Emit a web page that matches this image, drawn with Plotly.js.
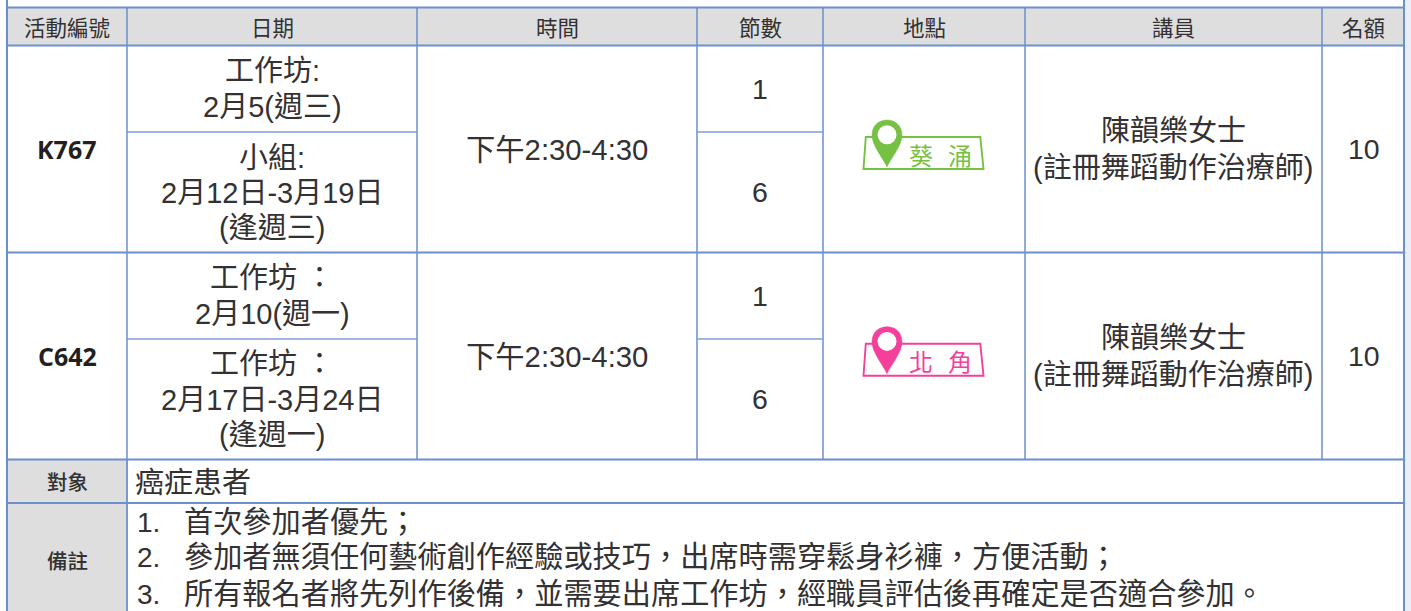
<!DOCTYPE html>
<html><head><meta charset="utf-8">
<script src="https://cdn.plot.ly/plotly-3.0.1.min.js"></script>
<style>html,body{margin:0;padding:0;background:#fff;overflow:hidden}#c{width:1411px;height:611px}</style>
</head><body><div id="c"></div>
<script>
// ---- content ----
const headers = ['活動編號','日期','時間','節數','地點','講員','名額'];
const activityCodes = ['K767','C642'];
const dateCells = [
  ['工作坊:','2月5(週三)'],
  ['小組:','2月12日-3月19日','(逢週三)'],
  ['工作坊 ：','2月10(週一)'],
  ['工作坊 ：','2月17日-3月24日','(逢週一)']
];
const sessionTime = '下午2:30-4:30';
const sessions = ['1','6','1','6'];
const venues = ['葵','涌','北','角'];
const speakerLines = ['陳韻樂女士','(註冊舞蹈動作治療師)'];
const quota = '10';
const targetLabel = '對象';
const targetText = '癌症患者';
const notesLabel = '備註';
const notes = [
  '1.','首次參加者優先；',
  '2.','參加者無須任何藝術創作經驗或技巧，出席時需穿鬆身衫褲，方便活動；',
  '3.','所有報名者將先列作後備，並需要出席工作坊，經職員評估後再確定是否適合參加。'
];

// ---- layout ----
const colX = [7,127,417,697,823,1025,1322,1404];
const rowY = [7.5,45.5,132,252.5,339,459.5,503,611];
const LINE='#6c8fcd', LINE2='#7f9fd6', INK='#333132', GREY='#dedede';
const SANS='"Liberation Sans","Noto Sans CJK TC",sans-serif';
const CJK='"Noto Sans CJK TC","Liberation Sans",sans-serif';
const shapes=[], ann=[];
const rect=(x0,y0,x1,y1,fill)=>shapes.push({type:'rect',x0,y0,x1,y1,fillcolor:fill,line:{width:0},layer:'below'});
const seg=(x0,y0,x1,y1,w,c)=>shapes.push({type:'line',x0,y0,x1,y1,line:{color:c||LINE,width:w||1.6}});
const txt=(s,x,y,size,o={})=>ann.push({text:s,x,y,xref:'x',yref:'y',showarrow:false,xanchor:o.a||'center',yanchor:'middle',
  font:{family:o.f||SANS,size,color:o.c||INK,weight:o.w||400}});

// backgrounds
rect(1405,0,1411,611,'#e9eef8');
rect(colX[0],rowY[0],colX[7],rowY[1],GREY);
rect(colX[0],rowY[5],colX[1],rowY[7],GREY);

// grid
seg(colX[0],0,colX[0],611,2);
seg(colX[7],0,colX[7],611,2);
[0,1,3,5,6].forEach(i=>seg(colX[0],rowY[i],colX[7],rowY[i],1.8));
seg(colX[1],rowY[2],colX[2],rowY[2],1.3,LINE2);
seg(colX[3],rowY[2],colX[4],rowY[2],1.3,LINE2);
seg(colX[1],rowY[4],colX[2],rowY[4],1.3,LINE2);
seg(colX[3],rowY[4],colX[4],rowY[4],1.3,LINE2);
colX.slice(1,7).forEach(x=>seg(x,rowY[0],x,rowY[5],1.5));
seg(colX[1],rowY[5],colX[1],611,1.8);

// header
const headMid=(rowY[0]+rowY[1])/2-0.5;
headers.forEach((h,i)=>txt(h,(colX[i]+colX[i+1])/2,headMid,21.5,{f:CJK}));

// rows
const blockTop=[rowY[1],rowY[3]], blockBot=[rowY[3],rowY[5]];
const speakerX=[1173.5,1172.5], speakerDy=[-18,19];
activityCodes.forEach((c,i)=>{
  const m=(blockTop[i]+blockBot[i])/2;
  txt(c,(colX[0]+colX[1])/2,m,25,{f:'"Open Sans",sans-serif',w:700,c:'#231f20'});
  txt(sessionTime,(colX[2]+colX[3])/2,m,29.3);
  speakerLines.forEach((l,k)=>txt(l,speakerX[k],m+speakerDy[k],29));
  txt(quota,(colX[6]+colX[7])/2+0.5,m,28.5);
});
const dateY=[[71,107],[158,193,228],[278,314],[364,400,435]];
dateCells.forEach((cell,i)=>cell.forEach((l,k)=>txt(l,(colX[1]+colX[2])/2,dateY[i][k],29)));
const sessY=[89,192,296,399];
sessions.forEach((s,i)=>txt(s,(colX[3]+colX[4])/2,sessY[i],28.5));

// venue badges
function badge(dy,color,a,b){
  shapes.push({type:'path',path:`M865.8 ${137+dy} L980.3 ${137+dy} L983.5 ${169+dy} L863.5 ${169+dy} Z`,
    fillcolor:'rgba(0,0,0,0)',line:{color,width:1.9}});
  const cy=135+dy;
  shapes.push({type:'path',path:`M887 ${167+dy} C883 ${158+dy} 872 ${146+dy} 872 ${cy} C872 ${cy-20} 902 ${cy-20} 902 ${cy} C902 ${146+dy} 891 ${158+dy} 887 ${167+dy} Z`,
    fillcolor:color,line:{color,width:0.5}});
  shapes.push({type:'circle',x0:877.5,x1:896.5,y0:cy-9.8,y1:cy+9.2,fillcolor:'#ffffff',line:{width:0}});
  txt(a,921,154+dy,24,{f:CJK,c:color});
  txt(b,960,154+dy,24,{f:CJK,c:color});
}
badge(0,'#76c043',venues[0],venues[1]);
badge(206.7,'#f4409a',venues[2],venues[3]);

// footer
txt(targetLabel,(colX[0]+colX[1])/2,481,20.5,{f:CJK,w:500});
txt(targetText,133,480,29,{a:'left',f:CJK});
txt(notesLabel,(colX[0]+colX[1])/2,560,20.5,{f:CJK,w:500});
const noteY=[522,557,594];
noteY.forEach((y,i)=>{
  txt(notes[i*2],135,y,28,{a:'left'});
  txt(notes[i*2+1],182,y,29.2,{a:'left'});
});

Plotly.newPlot('c',[{x:[],y:[],type:'scatter',mode:'markers',hoverinfo:'skip',showlegend:false}],{
  width:1411,height:611,margin:{l:0,r:0,t:0,b:0},paper_bgcolor:'#fff',plot_bgcolor:'#fff',
  xaxis:{range:[0,1411],visible:false,fixedrange:true},
  yaxis:{range:[611,0],visible:false,fixedrange:true},
  shapes,annotations:ann,showlegend:false
},{displayModeBar:false,staticPlot:true});
</script></body></html>
